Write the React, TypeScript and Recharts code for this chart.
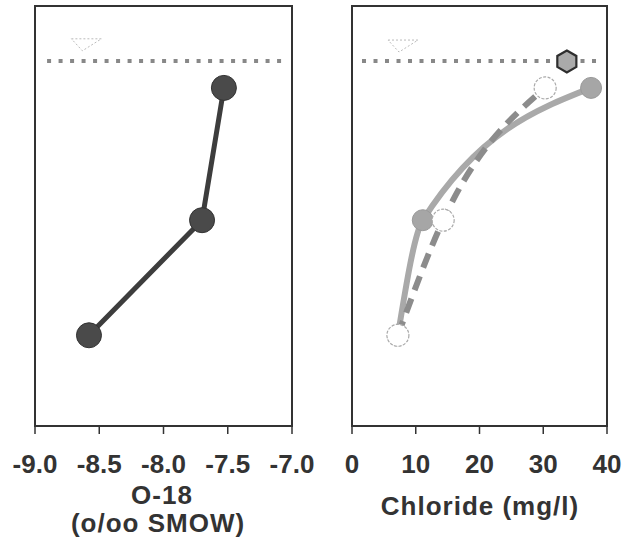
import React from "react";
import {
  ComposedChart,
  Line,
  Scatter,
  XAxis,
  YAxis,
  ReferenceArea,
  ReferenceLine,
  ReferenceDot,
} from "recharts";

// depth below surface, arbitrary units (0 = top of panel), bottom sample first
const sampleDepths = [78.4, 51, 19.5];
const o18Values = [-8.58, -7.7, -7.53];
const chlorideGray = [7.2, 11.1, 37.5];
const chlorideOpen = [7.2, 14.3, 30.3];
const springChloride = [33.7];
const springDepth = [13.2];
const waterTableDepth = 13.1;

const o18Ticks = [-9, -8.5, -8, -7.5, -7];
const chlorideTicks = [0, 10, 20, 30, 40];

const o18Data = sampleDepths.map((d, i) => ({ x: o18Values[i], y: d }));
const grayData = sampleDepths.map((d, i) => ({ x: chlorideGray[i], y: d }));
const openData = sampleDepths.map((d, i) => ({ x: chlorideOpen[i], y: d }));
const springData = springChloride.map((c, i) => ({ x: c, y: springDepth[i] }));

const FONT = "'Liberation Sans', Arial, Helvetica, sans-serif";
const INK = "#333";

const tickStyle = { fontSize: 26, fontWeight: 700, fill: INK, fontFamily: FONT };

const WaterTableMark = (props: any) => {
  const { cx, cy } = props;
  if (cx == null || cy == null) return null;
  return (
    <polygon
      points={`${cx - 15},${cy - 5} ${cx + 15},${cy - 5} ${cx - 4},${cy + 7}`}
      fill="none"
      stroke="#bbb"
      strokeWidth={1}
      strokeDasharray="2 2"
    />
  );
};

const Hexagon = (props: any) => {
  const { cx, cy } = props;
  if (cx == null || cy == null) return null;
  const r = 11;
  const pts = [0, 1, 2, 3, 4, 5]
    .map((k) => {
      const a = (Math.PI / 3) * k - Math.PI / 2;
      return `${cx + r * Math.cos(a)},${cy + r * Math.sin(a)}`;
    })
    .join(" ");
  return <polygon points={pts} fill="#aaa" stroke="#2e2e2e" strokeWidth={2.2} />;
};

const Frame = ({ x1, x2 }: { x1: number; x2: number }) => (
  <ReferenceArea x1={x1} x2={x2} y1={0} y2={100} fill="none" stroke={INK} strokeWidth={2} ifOverflow="visible" />
);

const O18Panel = () => (
  <ComposedChart width={314} height={548} margin={{ top: 6, right: 22, bottom: 22, left: 35 }}>
    <XAxis
      type="number"
      dataKey="x"
      domain={[-9, -7]}
      ticks={o18Ticks}
      interval={0}
      tickFormatter={(v: number) => v.toFixed(1)}
      tick={tickStyle}
      tickSize={8}
      tickMargin={21}
      tickLine={{ stroke: INK, strokeWidth: 1.5 }}
      axisLine={false}
      height={100}
      allowDataOverflow
    />
    <YAxis type="number" dataKey="y" domain={[0, 100]} reversed hide />
    <Frame x1={-9} x2={-7} />
    <ReferenceLine
      segment={[
        { x: -8.906, y: waterTableDepth },
        { x: -7.06, y: waterTableDepth },
      ]}
      stroke="#888"
      strokeWidth={4}
      strokeDasharray="4 7.5"
    />
    <ReferenceDot x={-8.6} y={9} r={1} shape={WaterTableMark} />
    <Line
      data={o18Data}
      dataKey="y"
      type="linear"
      stroke="#3d3d3d"
      strokeWidth={5}
      dot={{ r: 12.5, fill: "#4a4a4a", stroke: "#333", strokeWidth: 1 }}
      isAnimationActive={false}
    />
  </ComposedChart>
);

const ChloridePanel = () => (
  <ComposedChart width={314} height={548} margin={{ top: 6, right: 21, bottom: 22, left: 38 }}>
    <XAxis
      type="number"
      dataKey="x"
      domain={[0, 40]}
      ticks={chlorideTicks}
      interval={0}
      tick={tickStyle}
      tickSize={8}
      tickMargin={21}
      tickLine={{ stroke: INK, strokeWidth: 1.5 }}
      axisLine={false}
      height={100}
      allowDataOverflow
    />
    <YAxis type="number" dataKey="y" domain={[0, 100]} reversed hide />
    <Frame x1={0} x2={40} />
    <ReferenceLine
      segment={[
        { x: 1.57, y: waterTableDepth },
        { x: 38.4, y: waterTableDepth },
      ]}
      stroke="#888"
      strokeWidth={4}
      strokeDasharray="4 7.5"
    />
    <ReferenceDot x={8} y={9.3} r={1} shape={WaterTableMark} />
    <Line
      data={grayData}
      dataKey="y"
      type="monotone"
      stroke="#a9a9a9"
      strokeWidth={6}
      dot={{ r: 10.5, fill: "#a6a6a6", stroke: "#999", strokeWidth: 1 }}
      isAnimationActive={false}
    />
    <Line
      data={openData}
      dataKey="y"
      type="monotone"
      stroke="#8c8c8c"
      strokeWidth={6}
      strokeDasharray="15 9"
      dot={{ r: 11, fill: "#fff", stroke: "#aaa", strokeWidth: 1.2, strokeDasharray: "3 1.5" }}
      isAnimationActive={false}
    />
    <Scatter data={springData} dataKey="y" shape={Hexagon} isAnimationActive={false} />
  </ComposedChart>
);

export default function App() {
  const titleStyle = { fontSize: 26, fontWeight: 700, fill: INK, fontFamily: FONT, letterSpacing: 1 };
  return (
    <div style={{ position: "absolute", left: 0, top: 0, width: 628, height: 548, background: "#fff" }}>
      <div style={{ display: "flex" }}>
        <O18Panel />
        <ChloridePanel />
      </div>
      <svg width={628} height={548} style={{ position: "absolute", left: 0, top: 0, pointerEvents: "none" }}>
        <text x={162} y={504} textAnchor="middle" style={titleStyle}>
          O-18
        </text>
        <text x={158} y={532} textAnchor="middle" style={titleStyle}>
          (o/oo SMOW)
        </text>
        <text x={480} y={515} textAnchor="middle" style={titleStyle}>
          Chloride (mg/l)
        </text>
      </svg>
    </div>
  );
}
